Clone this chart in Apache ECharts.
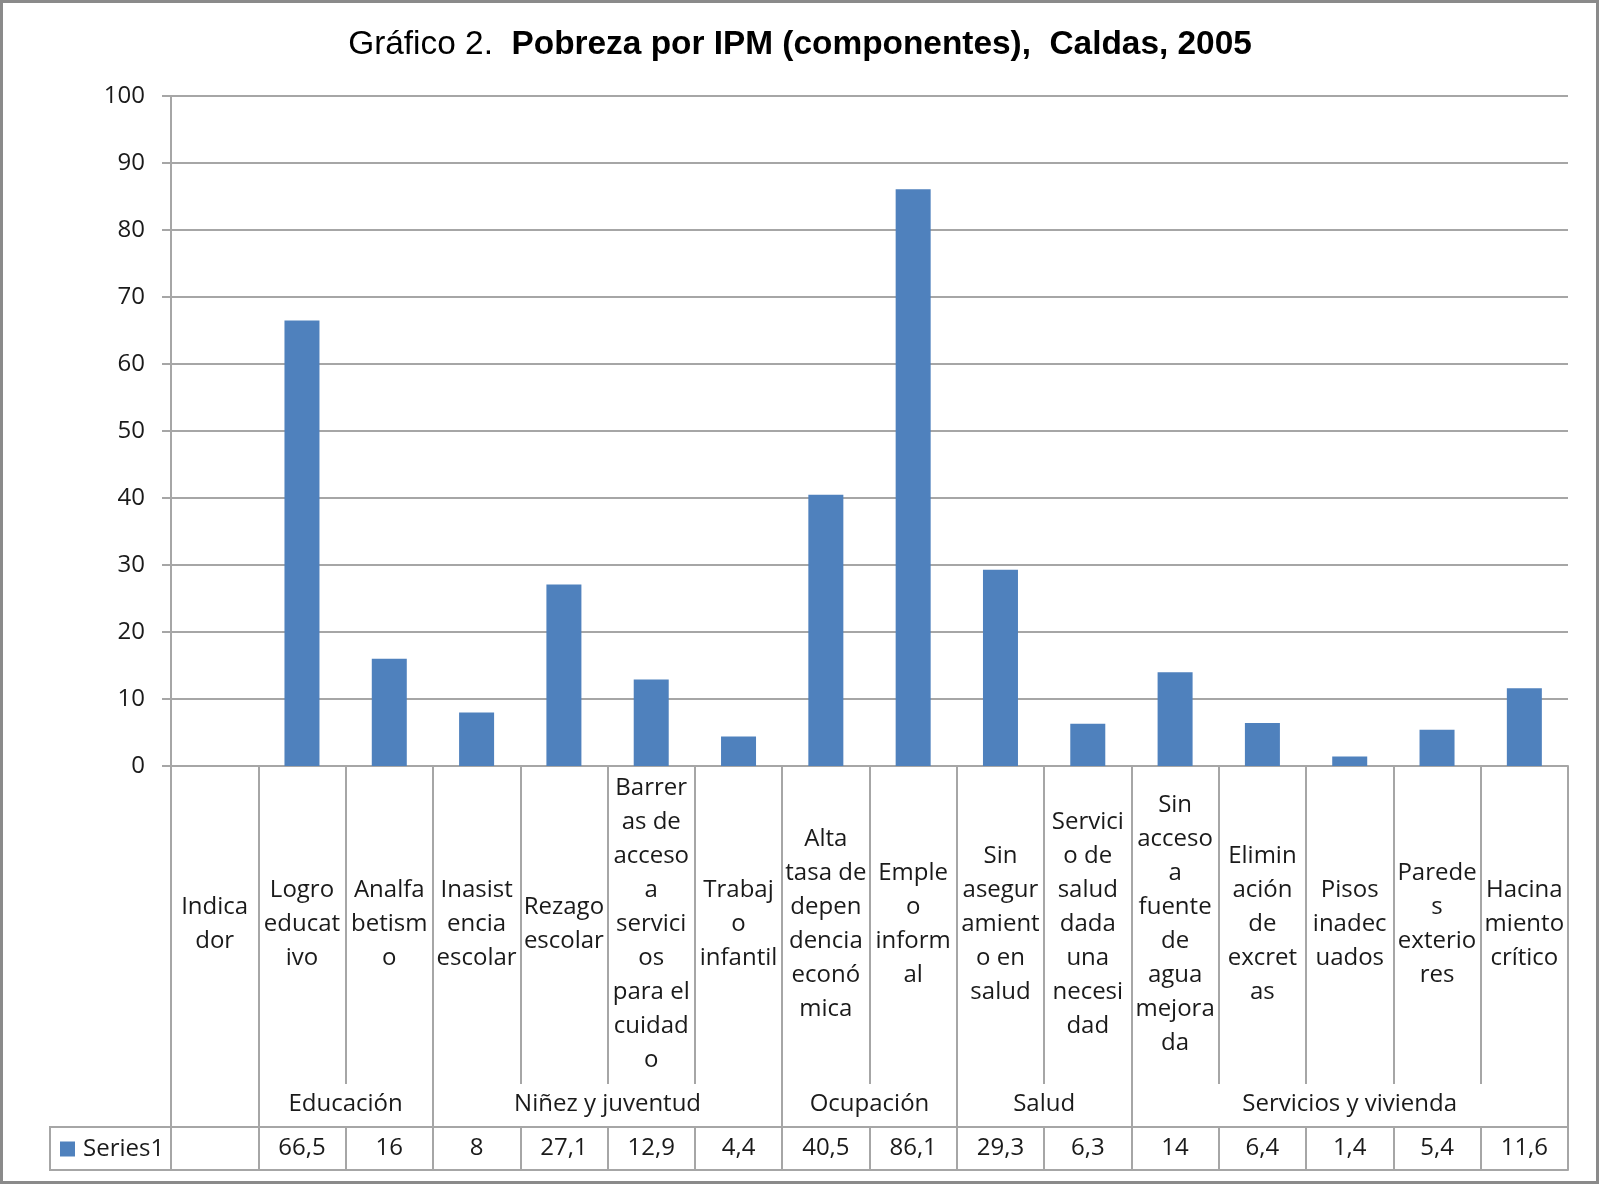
<!DOCTYPE html>
<html>
<head>
<meta charset="utf-8">
<title>Pobreza por IPM (componentes), Caldas, 2005</title>
<script src="https://cdn.jsdelivr.net/npm/echarts@6/dist/echarts.min.js"></script>
<style>
    html, body { margin: 0; padding: 0; background: #fff; }
    #main { width: 1600px; height: 1185px; }
</style>
</head>
<body>
<div id="main"></div>
<script>
'use strict'
// categorias, cortadas como las corta Excel en la tabla
var categorias = [
    'Indica\ndor',
    'Logro\neducat\nivo',
    'Analfa\nbetism\no',
    'Inasist\nencia\nescolar',
    'Rezago\nescolar',
    'Barrer\nas de\nacceso\na\nservici\nos\npara el\ncuidad\no',
    'Trabaj\no\ninfantil',
    'Alta\ntasa de\ndepen\ndencia\neconó\nmica',
    'Emple\no\ninform\nal',
    'Sin\nasegur\namient\no en\nsalud',
    'Servici\no de\nsalud\ndada\nuna\nnecesi\ndad',
    'Sin\nacceso\na\nfuente\nde\nagua\nmejora\nda',
    'Elimin\nación\nde\nexcret\nas',
    'Pisos\ninadec\nuados',
    'Parede\ns\nexterio\nres',
    'Hacina\nmiento\ncrítico'
];

var valores = [null, 66.5, 16, 8, 27.1, 12.9, 4.4, 40.5, 86.1, 29.3, 6.3, 14, 6.4, 1.4, 5.4, 11.6];

// grupos del segundo nivel, y cuantas columnas ocupa cada uno (despues de "Indicador")
var grupos = ['Educación', 'Niñez y juventud', 'Ocupación', 'Salud', 'Servicios y vivienda'];
var gruposCols = [2, 4, 2, 2, 5];

var serie = 'Series1';

var fuente = '"Open Sans", "DejaVu Sans", sans-serif';
var gris = '#a6a6a6';
var texto = '#1a1a1a';

// bordes y centros de los grupos en unidades de columna
var bordes = [0, 1];
var centros = [];
var pos = 1;
gruposCols.forEach(function (n) {
    centros.push(pos + n / 2);
    pos += n;
    bordes.push(pos);
});

var tabla = valores.map(function (v) {
    return v == null ? '' : String(v).replace('.', ',');
});

var option = {
    animation: false,
    backgroundColor: '#fff',
    title: {
        left: 'center',
        top: 23,
        text: '{n|Gráfico 2.  }{b|Pobreza por IPM (componentes),  Caldas, 2005}',
        textStyle: {
            fontWeight: 'normal',
            rich: {
                n: { fontFamily: '"Liberation Sans", Arial, sans-serif', fontSize: 33.4, lineHeight: 33, fontWeight: 'normal', color: '#000' },
                b: { fontFamily: '"Liberation Sans", Arial, sans-serif', fontSize: 33.4, lineHeight: 33, fontWeight: 'bold', color: '#000' }
            }
        }
    },
    legend: {
        data: [serie],
        left: 60,
        top: 1137,
        padding: 0,
        icon: 'rect',
        itemWidth: 15,
        itemHeight: 15,
        textStyle: { fontFamily: fuente, fontSize: 24, color: texto, padding: [0, 0, 0, 3] }
    },
    grid: {
        left: 171,
        right: 32,
        top: 96,
        bottom: 419,
        containLabel: false,
        outerBoundsMode: 'none'
    },
    xAxis: [
        {
            // nombres de los indicadores
            type: 'category',
            data: categorias,
            position: 'bottom',
            axisLine: { lineStyle: { color: gris, width: 2 } },
            axisTick: { show: true, interval: 0, length: 318, lineStyle: { color: gris, width: 2 } },
            axisLabel: {
                interval: 0,
                margin: 158.5,
                verticalAlign: 'middle',
                align: 'center',
                lineHeight: 34,
                fontFamily: fuente,
                fontSize: 24,
                color: texto
            },
            splitLine: { show: false }
        },
        {
            // grupos (segundo nivel)
            type: 'value',
            min: 0,
            max: 16,
            position: 'bottom',
            axisLine: { show: false },
            axisTick: { show: true, customValues: bordes, length: 404, lineStyle: { color: gris, width: 2 } },
            axisLabel: {
                customValues: centros,
                margin: 338,
                verticalAlign: 'middle',
                fontFamily: fuente,
                fontSize: 24,
                color: texto,
                formatter: function (v) {
                    var i = centros.indexOf(v);
                    return i >= 0 ? grupos[i] : '';
                }
            },
            splitLine: { show: false }
        },
        {
            // tabla de datos
            type: 'category',
            data: tabla,
            position: 'bottom',
            offset: 361,
            axisLine: { lineStyle: { color: gris, width: 2 } },
            axisTick: { show: true, interval: 0, length: 43, lineStyle: { color: gris, width: 2 } },
            axisLabel: {
                interval: 0,
                margin: 21.5,
                verticalAlign: 'middle',
                fontFamily: fuente,
                fontSize: 24,
                color: texto
            },
            splitLine: { show: false }
        },
        {
            // borde inferior de la tabla
            type: 'category',
            data: tabla,
            position: 'bottom',
            offset: 404,
            axisLine: { lineStyle: { color: gris, width: 2 } },
            axisTick: { show: false },
            axisLabel: { show: false },
            splitLine: { show: false }
        }
    ],
    yAxis: {
        type: 'value',
        min: 0,
        max: 100,
        interval: 10,
        axisLine: { show: true, lineStyle: { color: gris, width: 2 } },
        axisTick: { show: true, length: 9, lineStyle: { color: gris, width: 2 } },
        axisLabel: { margin: 26, fontFamily: fuente, fontSize: 24, color: texto },
        splitLine: { lineStyle: { color: gris, width: 2 } }
    },
    graphic: [
        {
            // marco del grafico
            type: 'rect',
            shape: { x: 1.5, y: 1.5, width: 1596, height: 1181 },
            style: { fill: 'none', stroke: '#8a8a8a', lineWidth: 3 }
        },
        {
            // celda de la leyenda en la tabla
            type: 'rect',
            shape: { x: 50, y: 1127, width: 121, height: 43 },
            style: { fill: 'none', stroke: gris, lineWidth: 2 }
        }
    ],
    series: [
        {
            name: serie,
            type: 'bar',
            xAxisIndex: 0,
            yAxisIndex: 0,
            barWidth: 35,
            itemStyle: { color: '#4f81bd' },
            data: valores
        }
    ]
};

var myChart = echarts.init(document.getElementById('main'));
myChart.setOption(option);
</script>
</body>
</html>
